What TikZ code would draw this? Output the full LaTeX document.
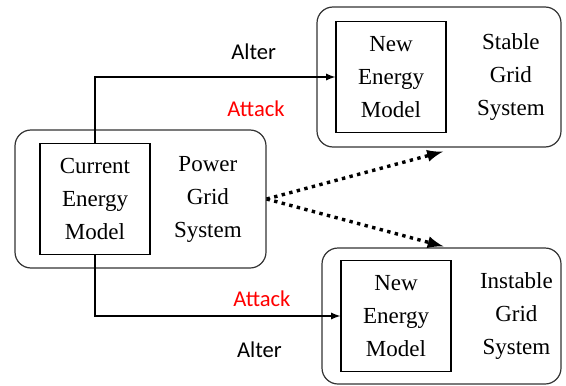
\documentclass[tikz,border=0pt]{standalone}
\usepackage{fontspec}
\setmainfont{Liberation Serif}
\newfontfamily\boxfont{Liberation Serif}
\newfontfamily\labelfont{Carlito}
\usepackage{xcolor}
\usetikzlibrary{calc}
\usetikzlibrary{positioning}

\begin{document}
\begin{tikzpicture}[x=0.5pt,y=-0.5pt]
		\tikzstyle{system} = [draw=black!80, line width=0.6pt, rounded corners=8pt]
		\tikzstyle{model} = [draw, line width=0.6pt, minimum width=55pt, minimum height=55.5pt, inner sep=0pt, align=center, font=\boxfont\fontsize{11.5}{16.5}\selectfont]
		\tikzstyle{systext} = [inner sep=0pt, align=center, font=\boxfont\fontsize{11.5}{16.5}\selectfont]
		\tikzstyle{link} = [draw, line width=0.6pt, -latex]
		\tikzstyle{attack} = [draw, line width=1.7pt, dash pattern=on 1.7pt off 2.2pt, -latex]
		\tikzstyle{lbl} = [inner sep=0pt, font=\labelfont\fontsize{11.3}{13}\selectfont]

		\useasboundingbox (0,0) rectangle (566,385);

		\node[system, minimum width=125.5pt, minimum height=69pt] (PowerGrid) at (140.5,199) {};
		\node[system, minimum width=122pt, minimum height=70pt] (StableGrid) at (439,77) {};
		\node[system, minimum width=119.5pt, minimum height=68pt] (InstableGrid) at (441.5,316) {};

		\node[model, right=12.5pt of PowerGrid.west] (CurrentModel) {Current\\Energy\\Model};
		\node[model, right=9.5pt of StableGrid.west] (StableModel) {New\\Energy\\Model};
		\node[model, right=9.5pt of InstableGrid.west] (InstableModel) {New\\Energy\\Model};

		\node[systext, right=11.5pt of CurrentModel] (PowerText) {Power\\Grid\\System};
		\node[systext, right=15pt of StableModel] (StableText) {Stable\\Grid\\System};
		\node[systext, right=14pt of InstableModel] (InstableText) {Instable\\Grid\\System};

		\draw[link] (CurrentModel.north) |- (StableModel.west)
			node[lbl, pos=0.83, yshift=12.5pt] {Alter}
			node[lbl, pos=0.835, yshift=-16pt, text=red] {Attack};
		\draw[link] (CurrentModel.south) |- (InstableModel.west)
			node[lbl, pos=0.84, yshift=8.5pt, text=red] {Attack}
			node[lbl, pos=0.835, yshift=-17pt] {Alter};

		\draw[attack] (PowerGrid.east) -- ([xshift=2pt,yshift=-2pt]StableGrid.south);
		\draw[attack] (PowerGrid.east) -- ([xshift=1pt,yshift=0.5pt]InstableGrid.north);

	\end{tikzpicture}
\end{document}
